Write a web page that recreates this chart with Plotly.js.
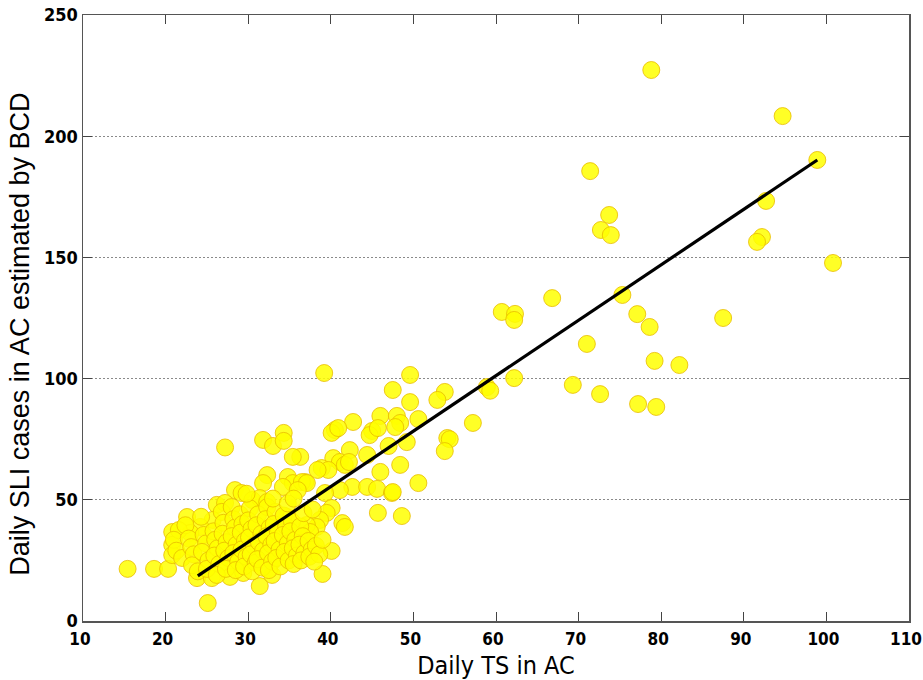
<!DOCTYPE html>
<html>
<head>
<meta charset="utf-8">
<script src="https://cdn.plot.ly/plotly-3.0.1.min.js"></script>
<style>html,body{margin:0;padding:0;background:#fff;}#chart{width:923px;height:680px;}</style>
</head>
<body>
<div id="chart"></div>
<script>
// Daily TS in AC (x) vs daily SLI cases estimated by BCD (y)
const tsX = [
  78.8,94.7,98.9,71.4,73.7,72.7,73.9,92.7,92.2,91.6,100.8,75.3,66.8,60.7,62.3,62.2,77.1,87.5,78.6,71.0,
  79.2,82.2,58.9,59.3,62.2,69.3,72.6,77.2,79.4,57.2,
  39.2,49.6,47.5,49.6,53.8,52.9,42.7,46.0,48.0,48.4,47.8,50.6,40.5,40.1,40.9,45.0,44.7,45.7,54.1,54.4,
  53.8,47.0,49.2,42.3,44.4,40.3,41.1,41.7,42.2,38.9,39.7,46.0,48.4,50.6,42.6,44.4,45.6,47.4,47.5,41.1,
  39.3,36.9,36.3,45.7,48.6,40.1,39.5,41.4,41.7,38.7,38.3,37.1,40.1,39.0,36.3,37.5,
  31.8,33.0,34.3,34.3,35.4,27.2,32.3,31.8,34.8,35.4,36.5,37.1,34.2,36.0,38.4,28.4,29.2,22.6,26.2,27.2,
  30.5,31.4,32.3,34.7,25.7,24.2,23.0,31.4,25.1,15.4,18.6,20.3,20.8,20.8,20.8,21.6,23.8,25.6,27.8,29.4,32.9,
  21.0,21.3,22.0,22.4,22.8,23.1,23.4,23.2,23.9,24.3,24.6,24.9,24.4,25.2,25.0,25.8,26.0,26.3,25.9,26.5,
  26.2,26.8,27.0,26.9,27.4,27.1,27.6,27.3,28.0,28.2,28.4,28.0,28.6,28.2,28.8,28.5,29.0,29.3,29.1,29.6,
  29.2,29.8,29.5,30.2,30.0,30.4,30.1,30.7,30.3,30.9,30.5,31.2,31.0,31.6,31.3,31.8,31.1,31.7,32.3,32.1,
  32.6,32.2,32.8,32.4,32.9,32.5,33.3,33.1,33.6,33.2,33.8,33.4,33.9,34.3,34.6,34.2,34.8,34.4,34.9,35.3,
  35.1,35.7,35.4,35.9,35.5,36.3,36.6,36.2,36.8,36.4,37.3,37.7,37.4,38.2,38.6,38.0,39.0,29.8,33.0,34.8,
  36.7,37.8,35.5
];
const sliY = [
  227.3,208.3,190.2,185.6,167.5,161.3,159.2,173.3,158.4,156.4,147.7,134.5,133.2,127.5,126.7,124.2,126.6,125.0,121.3,114.3,
  107.3,105.6,96.5,95.0,100.2,97.4,93.6,89.5,88.3,81.7,
  102.3,101.5,95.3,90.3,94.5,91.2,82.1,84.6,84.6,81.7,80.0,83.3,78.8,77.6,79.6,78.4,76.7,79.6,75.5,75.0,
  70.1,72.2,73.8,70.5,68.5,67.2,65.6,64.4,65.6,63.1,62.3,61.5,64.4,56.9,55.3,55.3,54.5,52.8,53.2,54.0,
  52.8,57.3,67.7,44.6,43.3,46.6,44.6,40.4,38.8,41.7,38.8,39.6,28.9,19.4,34.7,36.7,
  74.7,72.2,77.6,74.3,67.7,71.6,60.2,56.9,59.4,56.9,57.3,56.9,55.3,54.0,62.3,54.0,52.8,42.9,47.9,48.7,
  49.9,50.7,49.1,42.9,41.7,38.8,36.3,14.4,7.4,21.5,21.5,21.5,36.7,31.4,27.2,37.5,17.7,17.7,18.2,19.8,19.0,
  33.5,29.0,26.0,39.5,34.0,30.5,27.5,23.0,20.5,43.0,35.5,32.0,28.5,25.0,21.5,37.0,33.5,30.0,27.0,23.5,
  19.0,45.0,40.5,36.0,32.5,29.0,26.0,21.5,47.0,42.0,38.5,35.0,31.5,28.0,24.5,21.0,44.0,40.0,36.5,33.0,
  29.5,26.5,22.5,46.5,41.5,38.0,34.5,31.0,27.5,24.0,20.5,44.0,39.5,36.0,32.5,29.0,25.5,22.0,47.0,42.0,
  38.5,35.0,31.5,28.0,24.5,21.0,45.0,40.0,36.5,33.0,29.5,26.0,22.5,43.5,39.0,35.5,32.0,28.5,25.0,41.0,
  37.0,33.5,30.0,27.0,23.5,39.0,35.0,31.5,28.0,25.0,33.0,29.5,26.5,31.0,27.5,24.5,33.5,52.5,50.5,48.5,
  44.5,46.0,50.5
];
// Least-squares fit line end points
const fitX = [23.9, 98.9];
const fitY = [18.6, 190.2];
const xTicks = [10,20,30,40,50,60,70,80,90,100,110];
const yTicks = [0,50,100,150,200,250];
const xTitle = 'Daily TS in AC';
const yTitle = 'Daily SLI cases in AC estimated by BCD';

const narrow = "Liberation Sans Narrow, DejaVu Sans Condensed, Liberation Sans, Arial, sans-serif";
const data = [
  {
    x: tsX, y: sliY, type: 'scatter', mode: 'markers', hoverinfo: 'skip',
    marker: {size: 17, color: 'rgba(255,255,0,0.85)', line: {color: 'rgba(232,188,0,0.8)', width: 1}}
  },
  {
    x: fitX, y: fitY, type: 'scatter', mode: 'lines', hoverinfo: 'skip',
    line: {color: '#000000', width: 3.2}
  }
];
const layout = {
  width: 923, height: 680,
  margin: {l: 83, r: 14, t: 15, b: 59, pad: 0},
  paper_bgcolor: '#ffffff', plot_bgcolor: '#ffffff',
  showlegend: false,
  xaxis: {
    range: [10, 110], tickvals: xTicks, ticktext: xTicks.map(String),
    ticks: 'inside', ticklen: 9, tickwidth: 1, tickcolor: '#444',
    showline: true, linecolor: '#555', linewidth: 1.5, mirror: 'ticks',
    showgrid: false, zeroline: false, ticklabeloverflow: 'allow', ticklabelstandoff: 2, ticklabelshift: -3,
    tickfont: {family: narrow, size: 17, color: '#000', weight: 'bold'},
    title: {text: xTitle, font: {family: narrow, size: 25, color: '#000'}, standoff: 12}
  },
  yaxis: {
    range: [0, 250], tickvals: yTicks, ticktext: yTicks.map(String),
    ticks: 'inside', ticklen: 9, tickwidth: 1, tickcolor: '#444',
    showline: true, linecolor: '#555', linewidth: 1.5, mirror: 'ticks',
    showgrid: true, gridcolor: '#8a8a8a', gridwidth: 1, griddash: '1.5px,2.5px', zeroline: false,
    tickfont: {family: narrow, size: 18, color: '#000', weight: 'bold'}
  },
  annotations: [{
    text: yTitle, textangle: -90, showarrow: false,
    xref: 'paper', yref: 'paper', x: -0.0763, y: 0.474, xanchor: 'center', yanchor: 'middle',
    font: {family: 'Liberation Sans, Arial, sans-serif', size: 27, color: '#000'}
  }]
};
Plotly.newPlot('chart', data, layout, {displayModeBar: false, staticPlot: true});
</script>
</body>
</html>
